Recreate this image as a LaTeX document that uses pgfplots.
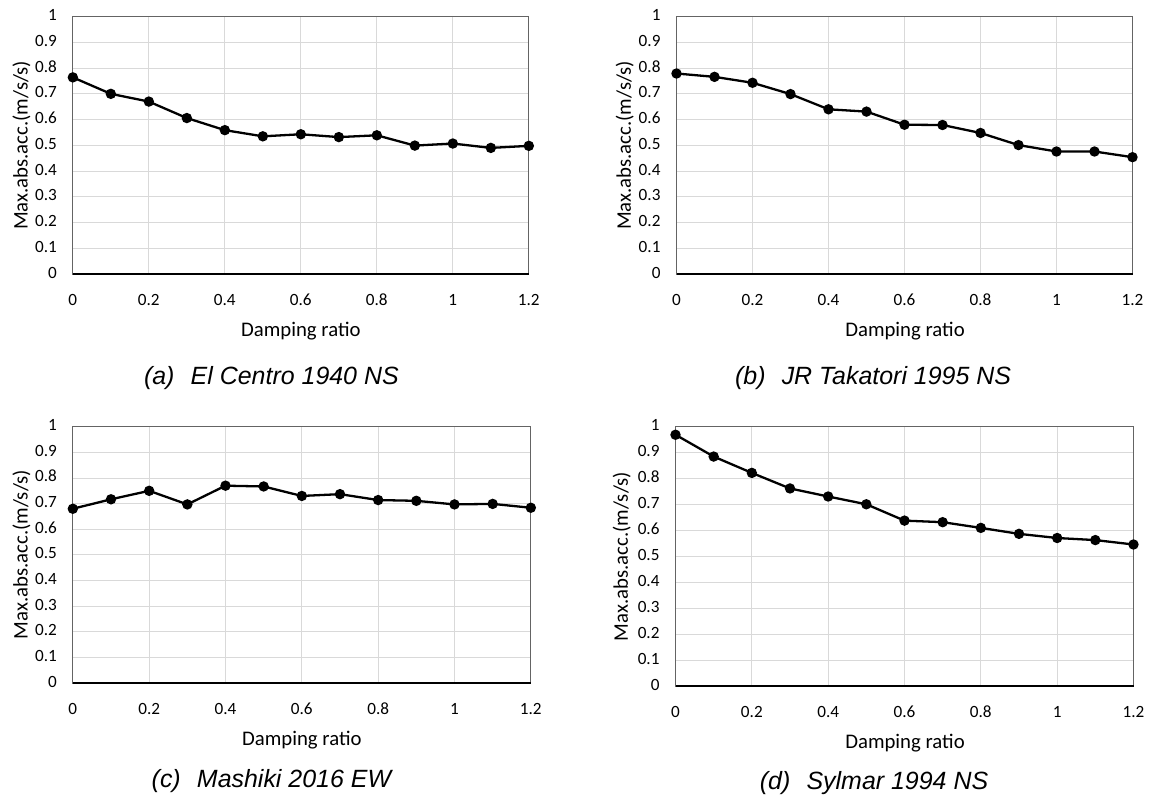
\documentclass[border=0pt]{standalone}
\usepackage{fontspec}
\setmainfont{Carlito}
\newfontfamily\capfont{Liberation Sans}
\usepackage{pgfplots}
\pgfplotsset{compat=1.18}

\definecolor{gridgray}{RGB}{217,217,217}
\definecolor{framegray}{RGB}{100,100,100}

\pgfplotsset{
  damp/.style={
    scale only axis,
    anchor=south west,
    clip=false,
    xmin=0, xmax=1.2, ymin=0, ymax=1,
    xtick={0,0.2,0.4,0.6,0.8,1,1.2},
    xticklabels={0,0.2,0.4,0.6,0.8,1,1.2},
    ytick={0,0.1,0.2,0.3,0.4,0.5,0.6,0.7,0.8,0.9,1},
    yticklabels={0,0.1,0.2,0.3,0.4,0.5,0.6,0.7,0.8,0.9,1},
    typeset ticklabels with strut,
    major tick length=0pt,
    grid=major,
    grid style={draw=gridgray, line width=0.5pt},
    axis line style={draw=framegray, line width=0.6pt},
    ticklabel style={font=\fontsize{8.6}{10}\selectfont},
    xticklabel style={yshift=-5pt},
    yticklabel style={xshift=-4.5pt},
  },
  curve/.style={black, line width=1.15pt, mark=*, mark size=2pt,
    mark options={fill=black}},
}

\newcommand{\bottomline}{\draw[black, line width=1pt] (rel axis cs:0,0) -- (rel axis cs:1,0);}
\newcommand{\labfont}{\fontsize{10.4}{12}\selectfont}
\newcommand{\capstyle}{\capfont\itshape\fontsize{12.5}{15}\selectfont}

\begin{document}
\begin{tikzpicture}
\path (0,0) rectangle (575.5pt,399.5pt);

% (a) El Centro 1940 NS
\begin{axis}[damp, at={(36.5pt,263pt)}, width=228.5pt, height=129pt]
\addplot[curve] coordinates {
(0,0.764) (0.1,0.700) (0.2,0.670) (0.3,0.606) (0.4,0.559) (0.5,0.535) (0.6,0.543)
(0.7,0.532) (0.8,0.539) (0.9,0.499) (1.0,0.507) (1.1,0.490) (1.2,0.498)
};
\bottomline
\end{axis}

% (b) JR Takatori 1995 NS
\begin{axis}[damp, at={(339pt,263pt)}, width=228.5pt, height=129pt]
\addplot[curve] coordinates {
(0,0.779) (0.1,0.766) (0.2,0.743) (0.3,0.699) (0.4,0.640) (0.5,0.631) (0.6,0.580)
(0.7,0.579) (0.8,0.548) (0.9,0.501) (1.0,0.476) (1.1,0.476) (1.2,0.454)
};
\bottomline
\end{axis}

% (c) Mashiki 2016 EW
\begin{axis}[damp, at={(36.5pt,58pt)}, width=229.5pt, height=128.5pt]
\addplot[curve] coordinates {
(0,0.680) (0.1,0.717) (0.2,0.750) (0.3,0.697) (0.4,0.770) (0.5,0.767) (0.6,0.730)
(0.7,0.737) (0.8,0.714) (0.9,0.711) (1.0,0.697) (1.1,0.699) (1.2,0.684)
};
\bottomline
\end{axis}

% (d) Sylmar 1994 NS
\begin{axis}[damp, at={(338.5pt,56.5pt)}, width=229.5pt, height=130pt]
\addplot[curve] coordinates {
(0,0.969) (0.1,0.885) (0.2,0.822) (0.3,0.762) (0.4,0.731) (0.5,0.701) (0.6,0.638)
(0.7,0.632) (0.8,0.610) (0.9,0.587) (1.0,0.571) (1.1,0.563) (1.2,0.546)
};
\bottomline
\end{axis}

% axis titles
\node[rotate=90, font=\labfont] at (10.75pt,327.5pt) {Max.abs.acc.(m/s/s)};
\node[rotate=90, font=\labfont] at (313pt,327.5pt) {Max.abs.acc.(m/s/s)};
\node[rotate=90, font=\labfont] at (10.75pt,122.5pt) {Max.abs.acc.(m/s/s)};
\node[rotate=90, font=\labfont] at (311.5pt,121.5pt) {Max.abs.acc.(m/s/s)};
\node[font=\labfont] at (150.75pt,234.5pt) {Damping ratio};
\node[font=\labfont] at (453.5pt,234.5pt) {Damping ratio};
\node[font=\labfont] at (151.25pt,29.5pt) {Damping ratio};
\node[font=\labfont] at (453.5pt,28pt) {Damping ratio};

% captions
\node[font=\capstyle] at (136pt,211pt) {(a)\hspace{0.65em}El Centro 1940 NS};
\node[font=\capstyle] at (437.5pt,211pt) {(b)\hspace{0.65em}JR Takatori 1995 NS};
\node[font=\capstyle] at (136pt,9pt) {(c)\hspace{0.65em}Mashiki 2016 EW};
\node[font=\capstyle] at (438pt,8pt) {(d)\hspace{0.65em}Sylmar 1994 NS};
\end{tikzpicture}
\end{document}
